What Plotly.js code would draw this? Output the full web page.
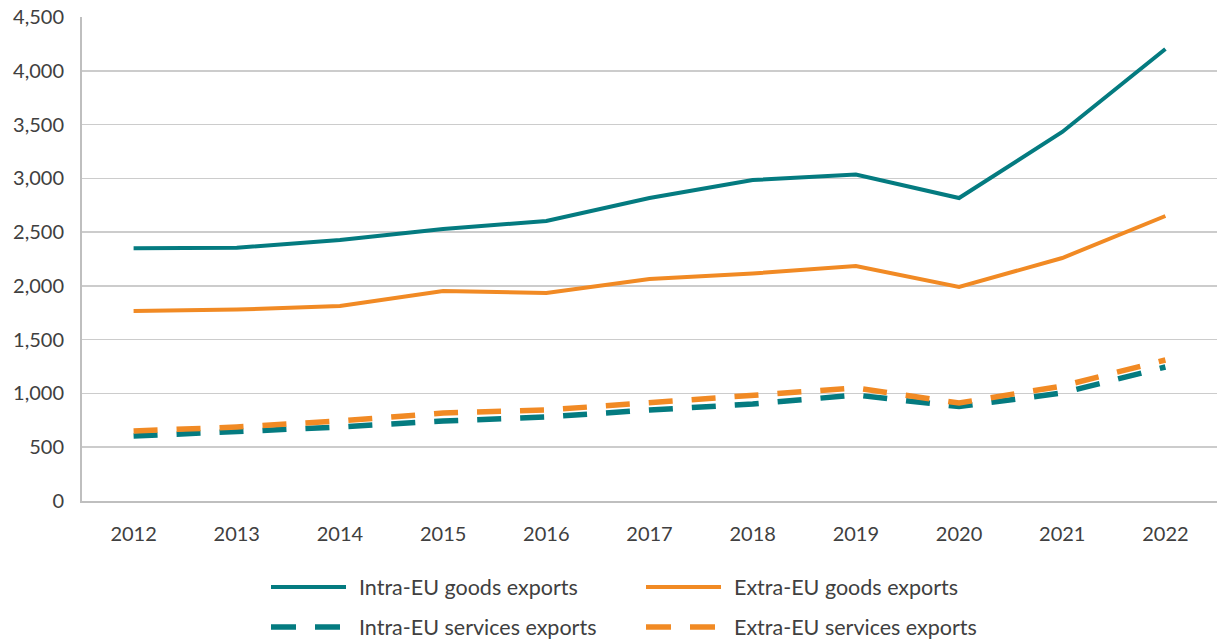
<!DOCTYPE html>
<html><head><meta charset="utf-8">
<script src="https://cdn.plot.ly/plotly-3.0.1.min.js"></script>
<style>html,body{margin:0;padding:0;background:#fff}</style>
</head><body><div id="chart" style="width:1218px;height:640px"></div>
<script>
const years = ['2012','2013','2014','2015','2016','2017','2018','2019','2020','2021','2022'];
const intraGoods = [2350, 2355, 2427, 2529, 2603, 2817, 2984, 3035, 2817, 3431, 4202];
const extraGoods = [1766, 1780, 1813, 1952, 1934, 2064, 2115, 2185, 1990, 2259, 2650];
const intraServices = [604, 641, 688, 744, 781, 846, 902, 985, 878, 1004, 1246];
const extraServices = [651, 688, 744, 818, 846, 911, 976, 1051, 911, 1069, 1311];
const seriesNames = ['Intra-EU goods exports','Extra-EU goods exports','Intra-EU services exports','Extra-EU services exports'];
const yTicks = [0,500,1000,1500,2000,2500,3000,3500,4000,4500];

const TEAL = '#047b80', ORANGE = '#f18a24';
const FONT = 'Lato, "Open Sans", sans-serif';
const dash = '24px,19px';

const traces = [
  {x: years, y: intraGoods, name: seriesNames[0], mode:'lines', line:{color:TEAL, width:4}},
  {x: years, y: extraGoods, name: seriesNames[1], mode:'lines', line:{color:ORANGE, width:4}},
  {x: years, y: intraServices, name: seriesNames[2], mode:'lines', line:{color:TEAL, width:5.5, dash:dash}},
  {x: years, y: extraServices, name: seriesNames[3], mode:'lines', line:{color:ORANGE, width:5.5, dash:dash}}
];

// custom legend (pixel-positioned via paper coords)
const L = 82, W = 1135, B = 501, H = 484;
const px = v => (v - L) / W;
const py = v => (B - v) / H;
const legendItems = [
  {x0:271, x1:346, y:587, tx:357, color:TEAL, dash:'solid', name:seriesNames[0]},
  {x0:646, x1:721, y:587, tx:732, color:ORANGE, dash:'solid', name:seriesNames[1]},
  {x0:271, x1:341, y:627, tx:357, color:TEAL, dash:'25px,19px', name:seriesNames[2]},
  {x0:646, x1:716, y:627, tx:732, color:ORANGE, dash:'25px,19px', name:seriesNames[3]}
];
const shapes = legendItems.map(it => ({type:'line', xref:'paper', yref:'paper',
  x0:px(it.x0), x1:px(it.x1), y0:py(it.y), y1:py(it.y),
  line:{color:it.color, width: it.dash==='solid'?4:5.5, dash:it.dash}}));
const annotations = legendItems.map(it => ({xref:'paper', yref:'paper', x:px(it.tx), y:py(it.y),
  xanchor:'left', yanchor:'middle', text:it.name, showarrow:false,
  font:{family:FONT, size:21.5, color:'#404040'}}));

const layout = {
  width:1218, height:640,
  margin:{l:82, r:1, t:17, b:139},
  paper_bgcolor:'#fff', plot_bgcolor:'#fff',
  showlegend:false,
  font:{family:FONT, size:20, color:'#404040'},
  xaxis:{type:'category', range:[-0.5,10.5], showgrid:false, showline:true, linecolor:'#bfbfbf', linewidth:2,
    ticks:'outside', ticklen:14, tickcolor:'rgba(0,0,0,0)', zeroline:false, fixedrange:true},
  yaxis:{range:[0,4500], tickvals:yTicks, ticktext:yTicks.map(v=>v.toLocaleString('en-US')),
    showgrid:true, gridcolor:'#cccccc', gridwidth:1.5, showline:true, linecolor:'#bfbfbf', linewidth:2,
    ticks:'outside', ticklen:12, tickcolor:'rgba(0,0,0,0)', zeroline:false, fixedrange:true},
  shapes: shapes,
  annotations: annotations
};
Plotly.newPlot('chart', traces, layout, {displayModeBar:false, staticPlot:true});
</script></body></html>
